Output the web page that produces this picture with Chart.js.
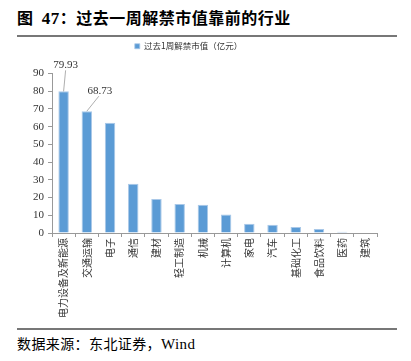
<!DOCTYPE html>
<html>
<head>
<meta charset="utf-8">
<script src="https://cdn.jsdelivr.net/npm/chart.js@4.4.1/dist/chart.umd.min.js"></script>
<style>
  body { margin: 0; width: 411px; height: 361px; background: #fff; position: relative; overflow: hidden; }
  .title { position: absolute; left: 17px; top: 5px; font: bold 16px "Noto Sans CJK SC", sans-serif; color: #000; letter-spacing: 0.5px; white-space: pre; }
  .title b { font-family: "Liberation Serif", serif; font-size: 17px; }
  .rule { position: absolute; left: 17px; width: 380px; height: 1.5px; background: #777; }
  .source { position: absolute; left: 17px; top: 333px; font: 14px "Noto Sans CJK SC", sans-serif; color: #000; letter-spacing: 0.4px; }
  .source span { font-family: "Liberation Serif", serif; font-size: 15px; }
  #wrap { position: absolute; left: 0; top: 37px; width: 411px; height: 282px; }
</style>
</head>
<body>
<div class="title">图  <b>47</b>：过去一周解禁市值靠前的行业</div>
<div class="rule" style="top:35px"></div>
<div id="wrap"><canvas id="chart"></canvas></div>
<div class="rule" style="top:328px"></div>
<div class="source">数据来源：东北证券，<span>Wind</span></div>
<script>
// industries, last week's unlock market value (100m yuan)
const industries = ["电力设备及新能源", "交通运输", "电子", "通信", "建材", "轻工制造", "机械",
  "计算机", "家电", "汽车", "基础化工", "食品饮料", "医药", "建筑"];
const unlockValues = [79.93, 68.73, 62.2, 27.8, 19.2, 16.4, 16.0, 10.4, 5.2, 4.6, 3.4, 2.2, 0.7, 0.3];
const seriesName = "过去1周解禁市值（亿元）";
const labelled = [0, 1]; // bars that carry a value label

// value labels with leader lines, as in the original
const leaderLabels = {
  id: "leaderLabels",
  afterDatasetsDraw(chart, args, opts) {
    const ctx = chart.ctx;
    const meta = chart.getDatasetMeta(0);
    ctx.save();
    ctx.font = '11px "Liberation Serif", serif';
    ctx.fillStyle = "#333";
    ctx.strokeStyle = "#999";
    ctx.lineWidth = 0.8;
    ctx.textAlign = "center";
    ctx.textBaseline = "middle";
    labelled.forEach((i, k) => {
      const bar = meta.data[i];
      const off = opts.offsets[k];
      const lx = bar.x + off[0], ly = bar.y + off[1];
      ctx.beginPath();
      ctx.moveTo(lx + off[2], ly + 5);
      ctx.lineTo(bar.x, bar.y);
      ctx.stroke();
      ctx.fillText(unlockValues[i].toFixed(2), lx, ly);
    });
    ctx.restore();
  }
};

// extra room between legend and plot
const legendGap = {
  id: "legendGap",
  beforeInit(chart) {
    const fit = chart.legend.fit;
    chart.legend.fit = function () {
      fit.call(this);
      this.height += 13;
    };
  }
};

new Chart(document.getElementById("chart"), {
  type: "bar",
  data: {
    labels: industries,
    datasets: [{
      label: seriesName,
      data: unlockValues,
      backgroundColor: "#5B9BD5",
      borderColor: "#A9C8E8",
      borderWidth: { top: 1, left: 1, right: 1, bottom: 0 },
      barPercentage: 0.45,
      categoryPercentage: 1
    }]
  },
  options: {
    responsive: true,
    maintainAspectRatio: false,
    animation: false,
    layout: { padding: { left: 0, right: 34, top: 0, bottom: 0 } },
    plugins: {
      tooltip: { enabled: false },
      legend: {
        display: true,
        labels: {
          boxWidth: 5, boxHeight: 5, padding: 5,
          color: "#333",
          font: { size: 8.5, family: '"Noto Sans CJK SC", sans-serif' }
        }
      },
      leaderLabels: { offsets: [[2, -26, 0], [13, -20, -1]] }
    },
    scales: {
      x: {
        offset: true,
        grid: { offset: true, drawOnChartArea: false, drawTicks: true, tickLength: 4, color: "#999" },
        border: { color: "#999" },
        ticks: {
          autoSkip: false, maxRotation: 90, minRotation: 90, padding: 1,
          color: "#333",
          font: { size: 10, family: '"Noto Sans CJK SC", sans-serif' }
        }
      },
      y: {
        min: 0, max: 90,
        afterFit(scale) { scale.width = 52; },
        grid: { drawOnChartArea: false, drawTicks: true, tickLength: 4, color: "#999" },
        border: { color: "#999" },
        ticks: {
          stepSize: 10, padding: 4,
          color: "#333",
          font: { size: 11, family: '"Liberation Serif", serif' }
        }
      }
    }
  },
  plugins: [leaderLabels, legendGap]
});
</script>
</body>
</html>
